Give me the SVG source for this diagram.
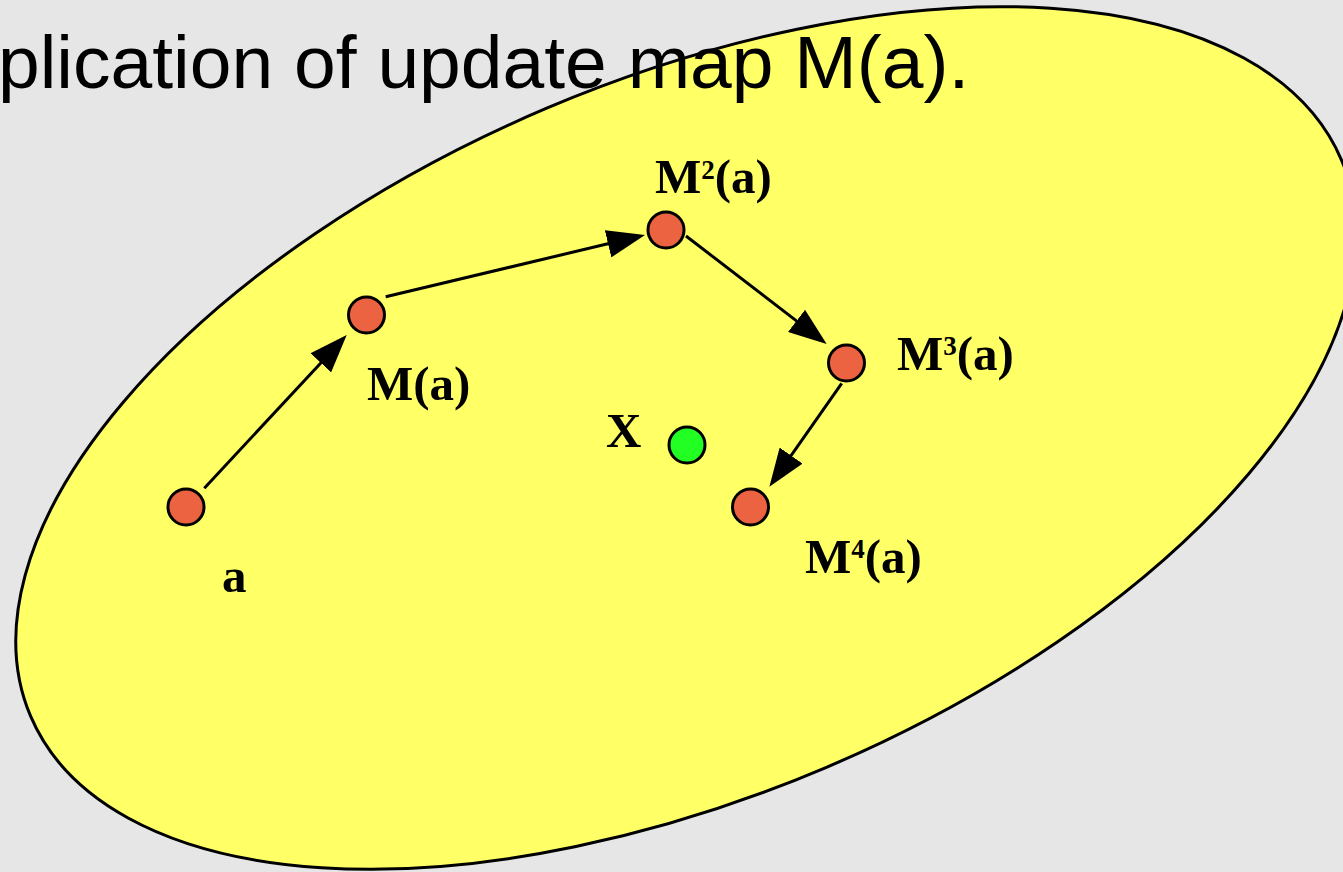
<svg xmlns="http://www.w3.org/2000/svg" width="1343" height="872" viewBox="0 0 1343 872">
<style>
.bg{fill:#e6e6e6}
.region{fill:#ffff66;stroke:#000;stroke-width:3}
.pt{fill:#eb6341;stroke:#000;stroke-width:3}
.fix{fill:#22ff22;stroke:#000;stroke-width:3}
.lbl{font-family:"Liberation Serif","Times New Roman",serif;font-weight:bold;font-size:49px;fill:#000}
.sup{font-size:27px}
.title{font-family:"Liberation Sans",Arial,sans-serif;font-size:75px;fill:#000}
.edge{fill:none;stroke:#000;stroke-width:3}
</style>
<defs>
<marker id="arr" markerUnits="userSpaceOnUse" markerWidth="40" markerHeight="28" viewBox="0 0 40 28" refX="2" refY="14" orient="auto">
<path d="M0,0 L38,14 L0,28 Z" fill="#000"/>
</marker>
</defs>
<rect class="bg" x="0" y="0" width="1343" height="872"/>
<ellipse class="region" cx="686" cy="438" rx="712" ry="358" transform="rotate(-23 686 438)"/>
<text class="title" x="-2" y="88">plication of update map M(a).</text>
<g id="connectors">
<path class="edge" d="M204.3,488.3 L322.2,361.4" marker-end="url(#arr)"/>
<path class="edge" d="M385.7,296.7 L610,243.3" marker-end="url(#arr)"/>
<path class="edge" d="M686,236 L798.1,322.1" marker-end="url(#arr)"/>
<path class="edge" d="M841.7,383.3 L790,457.2" marker-end="url(#arr)"/>
</g>
<g id="node-a">
<circle class="pt" cx="186" cy="507" r="18"/>
<text class="lbl" x="222" y="592">a</text>
</g>
<g id="node-Ma">
<circle class="pt" cx="366.5" cy="315" r="18"/>
<text class="lbl" x="367" y="400">M(a)</text>
</g>
<g id="node-M2a">
<circle class="pt" cx="666" cy="230" r="18"/>
<text class="lbl" x="655" y="193">M<tspan class="sup" dy="-14">2</tspan><tspan dy="14">(a)</tspan></text>
</g>
<g id="node-M3a">
<circle class="pt" cx="846.5" cy="363" r="18"/>
<text class="lbl" x="897" y="370">M<tspan class="sup" dy="-15">3</tspan><tspan dy="15">(a)</tspan></text>
</g>
<g id="node-M4a">
<circle class="pt" cx="750.5" cy="507" r="18"/>
<text class="lbl" x="805" y="573">M<tspan class="sup" dy="-15">4</tspan><tspan dy="15">(a)</tspan></text>
</g>
<g id="node-X">
<circle class="fix" cx="687" cy="445" r="18"/>
<text class="lbl" x="606" y="447">X</text>
</g>
</svg>
